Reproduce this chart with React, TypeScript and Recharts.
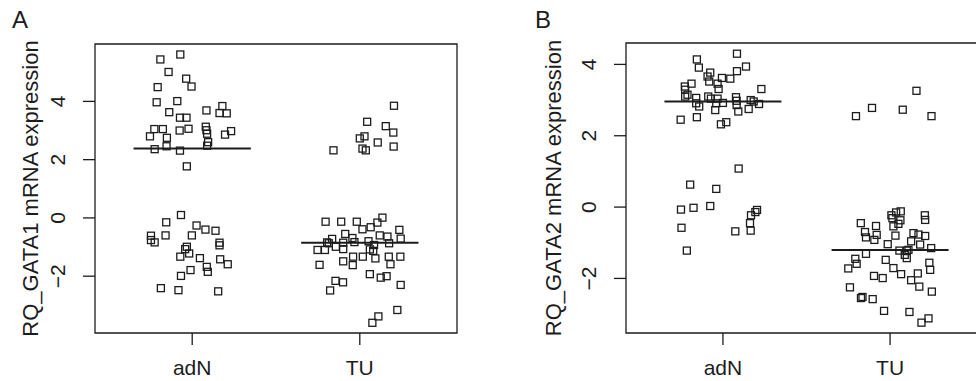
import { ScatterChart, Scatter, XAxis, YAxis, ReferenceArea, ReferenceLine } from "recharts";

// group names on the x axis (x = 1, 2), points carry their jittered position
const groups = ["adN", "TU"];
const yTicks = [-2, 0, 2, 4];

// Panel A: RQ_GATA1
const gata1AdN = [
  { x: 0.929, y: 5.61 }, { x: 0.81, y: 5.44 }, { x: 0.859, y: 5.01 }, { x: 0.964, y: 4.78 },
  { x: 0.794, y: 4.49 }, { x: 0.996, y: 4.51 }, { x: 0.788, y: 3.97 }, { x: 0.911, y: 4.01 },
  { x: 0.863, y: 3.63 }, { x: 0.927, y: 3.44 }, { x: 0.966, y: 3.44 }, { x: 1.085, y: 3.69 },
  { x: 1.18, y: 3.84 }, { x: 1.163, y: 3.6 }, { x: 1.206, y: 3.59 }, { x: 0.774, y: 3.05 },
  { x: 0.825, y: 3.05 }, { x: 0.925, y: 3.0 }, { x: 0.978, y: 3.06 }, { x: 1.081, y: 3.13 },
  { x: 1.085, y: 3.01 }, { x: 1.089, y: 2.89 }, { x: 0.748, y: 2.8 }, { x: 0.849, y: 2.75 },
  { x: 1.232, y: 2.98 }, { x: 1.196, y: 2.86 }, { x: 1.095, y: 2.6 }, { x: 1.089, y: 2.48 },
  { x: 0.776, y: 2.36 }, { x: 0.847, y: 2.46 }, { x: 0.927, y: 2.31 }, { x: 0.968, y: 1.77 },
  { x: 0.933, y: 0.1 }, { x: 0.845, y: -0.15 }, { x: 1.026, y: -0.26 }, { x: 1.079, y: -0.4 },
  { x: 1.139, y: -0.44 }, { x: 0.754, y: -0.61 }, { x: 0.841, y: -0.6 }, { x: 0.998, y: -0.6 },
  { x: 0.754, y: -0.76 }, { x: 0.776, y: -0.84 }, { x: 1.163, y: -0.85 }, { x: 1.163, y: -0.94 },
  { x: 0.968, y: -0.99 }, { x: 0.958, y: -1.07 }, { x: 0.982, y: -1.22 }, { x: 0.929, y: -1.33 },
  { x: 1.046, y: -1.38 }, { x: 1.167, y: -1.42 }, { x: 1.212, y: -1.59 }, { x: 1.087, y: -1.68 },
  { x: 1.093, y: -1.85 }, { x: 0.99, y: -1.79 }, { x: 0.933, y: -1.99 }, { x: 0.813, y: -2.41 },
  { x: 0.918, y: -2.48 }, { x: 1.155, y: -2.52 },
];
const gata1TU = [
  { x: 2.204, y: 3.85 }, { x: 2.044, y: 3.3 }, { x: 2.155, y: 3.15 }, { x: 2.2, y: 2.93 },
  { x: 2.0, y: 2.73 }, { x: 2.028, y: 2.8 }, { x: 2.107, y: 2.59 }, { x: 2.202, y: 2.45 },
  { x: 2.016, y: 2.38 }, { x: 2.036, y: 2.32 }, { x: 1.843, y: 2.32 },
  { x: 1.796, y: -0.13 }, { x: 1.889, y: -0.13 }, { x: 1.982, y: -0.13 }, { x: 2.135, y: 0.01 },
  { x: 2.105, y: -0.16 }, { x: 2.065, y: -0.32 }, { x: 2.016, y: -0.39 }, { x: 2.236, y: -0.41 },
  { x: 1.913, y: -0.55 }, { x: 1.956, y: -0.69 }, { x: 1.835, y: -0.72 }, { x: 2.119, y: -0.6 },
  { x: 2.165, y: -0.64 }, { x: 2.244, y: -0.71 }, { x: 1.805, y: -0.84 }, { x: 1.815, y: -0.87 },
  { x: 1.857, y: -0.99 }, { x: 1.901, y: -0.85 }, { x: 1.968, y: -0.83 }, { x: 2.052, y: -0.8 },
  { x: 2.085, y: -0.93 }, { x: 2.06, y: -1.08 }, { x: 2.08, y: -1.13 }, { x: 2.175, y: -0.87 },
  { x: 1.748, y: -1.1 }, { x: 1.792, y: -1.1 }, { x: 1.901, y: -1.07 }, { x: 1.96, y: -1.33 },
  { x: 2.018, y: -1.33 }, { x: 2.093, y: -1.39 }, { x: 2.173, y: -1.33 }, { x: 2.242, y: -1.33 },
  { x: 1.76, y: -1.61 }, { x: 1.901, y: -1.49 }, { x: 1.958, y: -1.62 }, { x: 2.183, y: -1.59 },
  { x: 2.06, y: -1.93 }, { x: 2.125, y: -2.05 }, { x: 2.16, y: -2.0 }, { x: 1.855, y: -2.16 },
  { x: 1.9, y: -2.21 }, { x: 1.823, y: -2.49 }, { x: 2.244, y: -2.3 }, { x: 2.224, y: -3.16 },
  { x: 2.111, y: -3.38 }, { x: 2.075, y: -3.6 },
];
const gata1Medians = [2.38, -0.85];

// Panel B: RQ_GATA2
const gata2AdN = [
  { x: 1.084, y: 4.3 }, { x: 0.844, y: 4.14 }, { x: 0.856, y: 3.91 }, { x: 1.138, y: 3.94 },
  { x: 1.084, y: 3.81 }, { x: 0.924, y: 3.77 }, { x: 0.908, y: 3.66 }, { x: 0.994, y: 3.62 },
  { x: 1.044, y: 3.6 }, { x: 0.918, y: 3.52 }, { x: 0.968, y: 3.46 }, { x: 0.812, y: 3.46 },
  { x: 0.772, y: 3.38 }, { x: 0.774, y: 3.29 }, { x: 0.974, y: 3.31 }, { x: 1.23, y: 3.31 },
  { x: 0.788, y: 3.15 }, { x: 0.774, y: 3.1 }, { x: 0.912, y: 3.1 }, { x: 0.928, y: 3.04 },
  { x: 0.968, y: 3.04 }, { x: 1.078, y: 3.08 }, { x: 0.84, y: 3.06 }, { x: 1.082, y: 2.98 },
  { x: 1.166, y: 3.0 }, { x: 1.184, y: 2.96 }, { x: 0.84, y: 2.91 }, { x: 1.0, y: 2.92 },
  { x: 0.96, y: 2.91 }, { x: 1.082, y: 2.86 }, { x: 1.216, y: 2.89 }, { x: 0.858, y: 2.82 },
  { x: 1.154, y: 2.75 }, { x: 0.954, y: 2.72 }, { x: 1.092, y: 2.68 }, { x: 0.747, y: 2.45 },
  { x: 0.844, y: 2.52 }, { x: 1.02, y: 2.38 }, { x: 0.988, y: 2.32 },
  { x: 1.094, y: 1.08 }, { x: 0.804, y: 0.63 }, { x: 0.96, y: 0.51 }, { x: 0.749, y: -0.07 },
  { x: 0.824, y: -0.02 }, { x: 0.924, y: 0.03 }, { x: 1.204, y: -0.08 }, { x: 1.194, y: -0.14 },
  { x: 1.168, y: -0.23 }, { x: 1.162, y: -0.45 }, { x: 1.166, y: -0.66 }, { x: 0.752, y: -0.58 },
  { x: 1.074, y: -0.68 }, { x: 0.784, y: -1.22 },
];
const gata2TU = [
  { x: 2.158, y: 3.26 }, { x: 1.892, y: 2.78 }, { x: 2.076, y: 2.73 }, { x: 1.796, y: 2.55 },
  { x: 2.248, y: 2.55 },
  { x: 2.064, y: -0.12 }, { x: 2.036, y: -0.15 }, { x: 2.008, y: -0.23 }, { x: 2.014, y: -0.31 },
  { x: 2.062, y: -0.37 }, { x: 2.05, y: -0.47 }, { x: 2.02, y: -0.54 }, { x: 2.208, y: -0.23 },
  { x: 2.21, y: -0.36 }, { x: 1.825, y: -0.45 }, { x: 1.916, y: -0.53 }, { x: 1.85, y: -0.7 },
  { x: 1.856, y: -0.85 }, { x: 1.92, y: -0.78 }, { x: 1.906, y: -0.92 }, { x: 2.032, y: -0.8 },
  { x: 2.14, y: -0.73 }, { x: 2.17, y: -0.77 }, { x: 2.21, y: -0.81 }, { x: 2.126, y: -0.96 },
  { x: 1.986, y: -1.04 }, { x: 2.18, y: -1.05 }, { x: 2.246, y: -1.15 }, { x: 2.056, y: -1.22 },
  { x: 2.1, y: -1.22 }, { x: 2.088, y: -1.34 }, { x: 2.1, y: -1.43 }, { x: 2.11, y: -1.2 },
  { x: 1.856, y: -1.31 }, { x: 1.792, y: -1.45 }, { x: 1.8, y: -1.59 }, { x: 1.75, y: -1.72 },
  { x: 1.974, y: -1.48 }, { x: 2.02, y: -1.71 }, { x: 2.066, y: -1.88 }, { x: 2.235, y: -1.56 },
  { x: 2.24, y: -1.76 }, { x: 1.904, y: -1.93 }, { x: 1.956, y: -1.99 }, { x: 2.166, y: -1.86 },
  { x: 2.126, y: -2.05 }, { x: 2.175, y: -2.23 }, { x: 1.76, y: -2.25 }, { x: 1.835, y: -2.52 },
  { x: 1.826, y: -2.55 }, { x: 1.896, y: -2.58 }, { x: 2.25, y: -2.37 }, { x: 1.964, y: -2.91 },
  { x: 2.116, y: -2.94 }, { x: 2.23, y: -3.12 }, { x: 2.188, y: -3.24 },
];
const gata2Medians = [2.96, -1.2];

const INK = "#1c1c1c";
const FONT = "'Liberation Sans', Arial, Helvetica, sans-serif";
const X_DOMAIN: [number, number] = [0.42, 2.58];
const MEDIAN_HALF = 0.35;

const OpenSquare = (props: any) => {
  const { cx, cy } = props;
  if (cx == null || cy == null) return null;
  return <rect x={cx - 3.5} y={cy - 3.5} width={7} height={7} fill="none" stroke={INK} strokeWidth={1.3} />;
};

const YTick = ({ x, y, payload }: any) => (
  <text
    x={x - 23}
    y={y}
    transform={`rotate(-90 ${x - 23} ${y})`}
    textAnchor="middle"
    dominantBaseline="central"
    fontSize={21}
    fontFamily={FONT}
    fill={INK}
  >
    {payload.value < 0 ? `\u2212${Math.abs(payload.value)}` : payload.value}
  </text>
);

const XTick = ({ x, y, payload }: any) => (
  <text x={x} y={y + 28} textAnchor="middle" fontSize={21} fontFamily={FONT} fill={INK}>
    {groups[payload.value - 1]}
  </text>
);

type PanelProps = {
  letter: string;
  title: string;
  adn: { x: number; y: number }[];
  tu: { x: number; y: number }[];
  medians: number[];
  yDomain: [number, number];
  width: number;
  left: number;
  top: number;
  right: number;
  titleX: number;
  letterX: number;
};

const Panel = ({ letter, title, adn, tu, medians, yDomain, width, left, top, right, titleX, letterX }: PanelProps) => {
  const plotH = 381 - top - 48;
  const midY = top + plotH / 2;
  return (
    <ScatterChart width={width} height={381} margin={{ top, right, bottom: 0, left: 0 }}>
      <XAxis
        type="number"
        dataKey="x"
        domain={X_DOMAIN}
        ticks={[1, 2]}
        allowDataOverflow
        height={48}
        axisLine={false}
        tickSize={12}
        tickMargin={2}
        tickLine={{ stroke: INK, strokeWidth: 1.3 }}
        tick={<XTick />}
      />
      <YAxis
        type="number"
        dataKey="y"
        domain={yDomain}
        ticks={yTicks}
        allowDataOverflow
        width={left}
        axisLine={false}
        tickSize={12}
        tickMargin={2}
        tickLine={{ stroke: INK, strokeWidth: 1.3 }}
        tick={<YTick />}
      />
      <ReferenceArea
        x1={X_DOMAIN[0]}
        x2={X_DOMAIN[1]}
        y1={yDomain[0]}
        y2={yDomain[1]}
        fill="none"
        stroke={INK}
        strokeWidth={1.3}
        ifOverflow="visible"
      />
      {medians.map((m, i) => (
        <ReferenceLine
          key={i}
          segment={[
            { x: i + 1 - MEDIAN_HALF, y: m },
            { x: i + 1 + MEDIAN_HALF, y: m },
          ]}
          stroke={INK}
          strokeWidth={2}
        />
      ))}
      <Scatter data={adn} shape={<OpenSquare />} isAnimationActive={false} />
      <Scatter data={tu} shape={<OpenSquare />} isAnimationActive={false} />
      <text
        x={titleX}
        y={midY}
        transform={`rotate(-90 ${titleX} ${midY})`}
        textAnchor="middle"
        dominantBaseline="central"
        fontSize={22}
        fontFamily={FONT}
        fill={INK}
      >
        {title}
      </text>
      <text x={letterX} y={28} fontSize={24} fontFamily={FONT} fill={INK}>
        {letter}
      </text>
    </ScatterChart>
  );
};

export default function App() {
  return (
    <div
      style={{
        position: "absolute",
        left: 0,
        top: 0,
        width: 976,
        height: 381,
        overflow: "hidden",
        background: "#fff",
      }}
    >
      <div style={{ position: "absolute", left: 0, top: 0 }}>
        <Panel
          letter="A"
          title="RQ_GATA1 mRNA expression"
          adn={gata1AdN}
          tu={gata1TU}
          medians={gata1Medians}
          yDomain={[-3.95, 5.97]}
          width={488}
          left={95}
          top={44}
          right={31}
          titleX={30}
          letterX={12}
        />
      </div>
      <div style={{ position: "absolute", left: 488, top: 0 }}>
        <Panel
          letter="B"
          title="RQ_GATA2 mRNA expression"
          adn={gata2AdN}
          tu={gata2TU}
          medians={gata2Medians}
          yDomain={[-3.53, 4.6]}
          width={510}
          left={138}
          top={43}
          right={11}
          titleX={65}
          letterX={47}
        />
      </div>
    </div>
  );
}
